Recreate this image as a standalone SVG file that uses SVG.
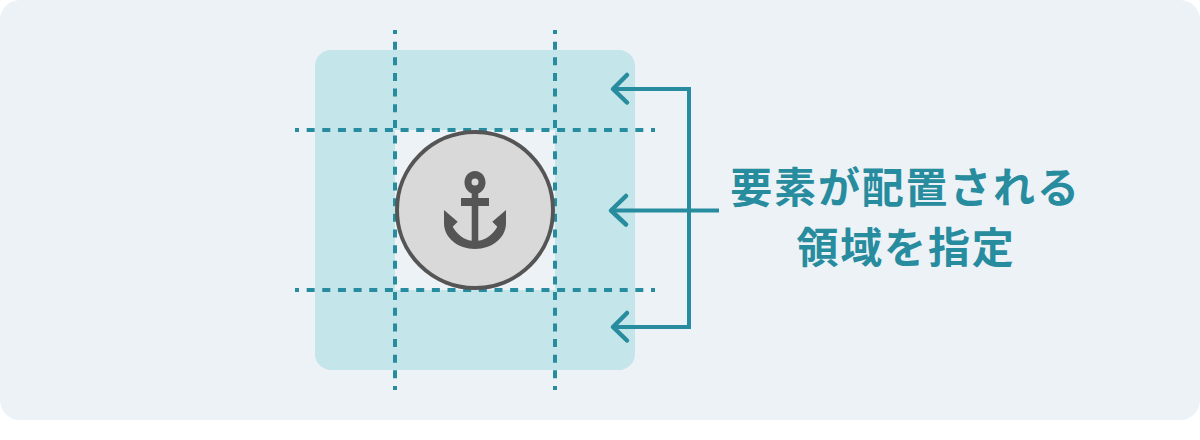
<svg xmlns="http://www.w3.org/2000/svg" width="1200" height="440" viewBox="0 0 1200 440">
<style>
.grid{stroke:#278c9e;stroke-width:4;stroke-dasharray:8 7.652;stroke-dashoffset:4;fill:none}
.conn{stroke:#278c9e;stroke-width:4;fill:none}
.head{stroke:#278c9e;stroke-width:4.500;fill:none;stroke-linecap:round;stroke-linejoin:round}
.label{font-family:"Noto Sans CJK JP","Noto Sans",sans-serif;font-weight:700;font-size:42px;letter-spacing:1.800px;fill:#278c9e;text-anchor:middle}
</style>
<rect width="1200" height="440" fill="#ffffff"/>
<rect id="panel" width="1200" height="420" rx="20" fill="#edf2f7"/>
<g id="area">
<rect x="315" y="50" width="320" height="320" rx="16" fill="#c4e5ea"/>
<rect x="395" y="130" width="160" height="160" fill="#edf2f7"/>
</g>
<g id="grid">
<line class="grid" x1="395" y1="30" x2="395" y2="390"/>
<line class="grid" x1="555" y1="30" x2="555" y2="390"/>
<line class="grid" x1="295" y1="130" x2="655" y2="130"/>
<line class="grid" x1="295" y1="290" x2="655" y2="290"/>
</g>
<g id="element">
<circle cx="475" cy="210" r="78" fill="#d9d9d9" stroke="#555555" stroke-width="4"/>
<path fill="#555555" fill-rule="evenodd" d="M475 171C481 171 485.500 176 485.500 182.500C485.500 187.500 482.500 191.800 478.300 193.500V198H489V206H478.300V240.700C486 239.800 493 234.500 497.300 226.700L492.300 221.700L506 210V223.300C506 238 492 249 475 249C458 249 444 238 444 223.300V210L457.700 221.700L452.700 226.700C457 234.500 464 239.800 471.700 240.700V206H461V198H471.700V193.500C467.500 191.800 464.500 187.500 464.500 182.500C464.500 176 469 171 475 171ZM475 178.500A3.500 3.500 0 1 0 475 185.500A3.500 3.500 0 1 0 475 178.500Z"/>
</g>
<g id="connectors">
<path class="conn" d="M613 89H689V327H613"/>
<path class="conn" d="M611 210.500H719"/>
<path class="head" d="M627 75L613 89L627 102.500"/>
<path class="head" d="M626 196L611 210.500L626 224.500"/>
<path class="head" d="M627 313L613 327L627 340.500"/>
</g>
<g id="label">
<text class="label" x="905.500" y="203">要素が配置される</text>
<text class="label" x="906" y="263">領域を指定</text>
</g>
</svg>
